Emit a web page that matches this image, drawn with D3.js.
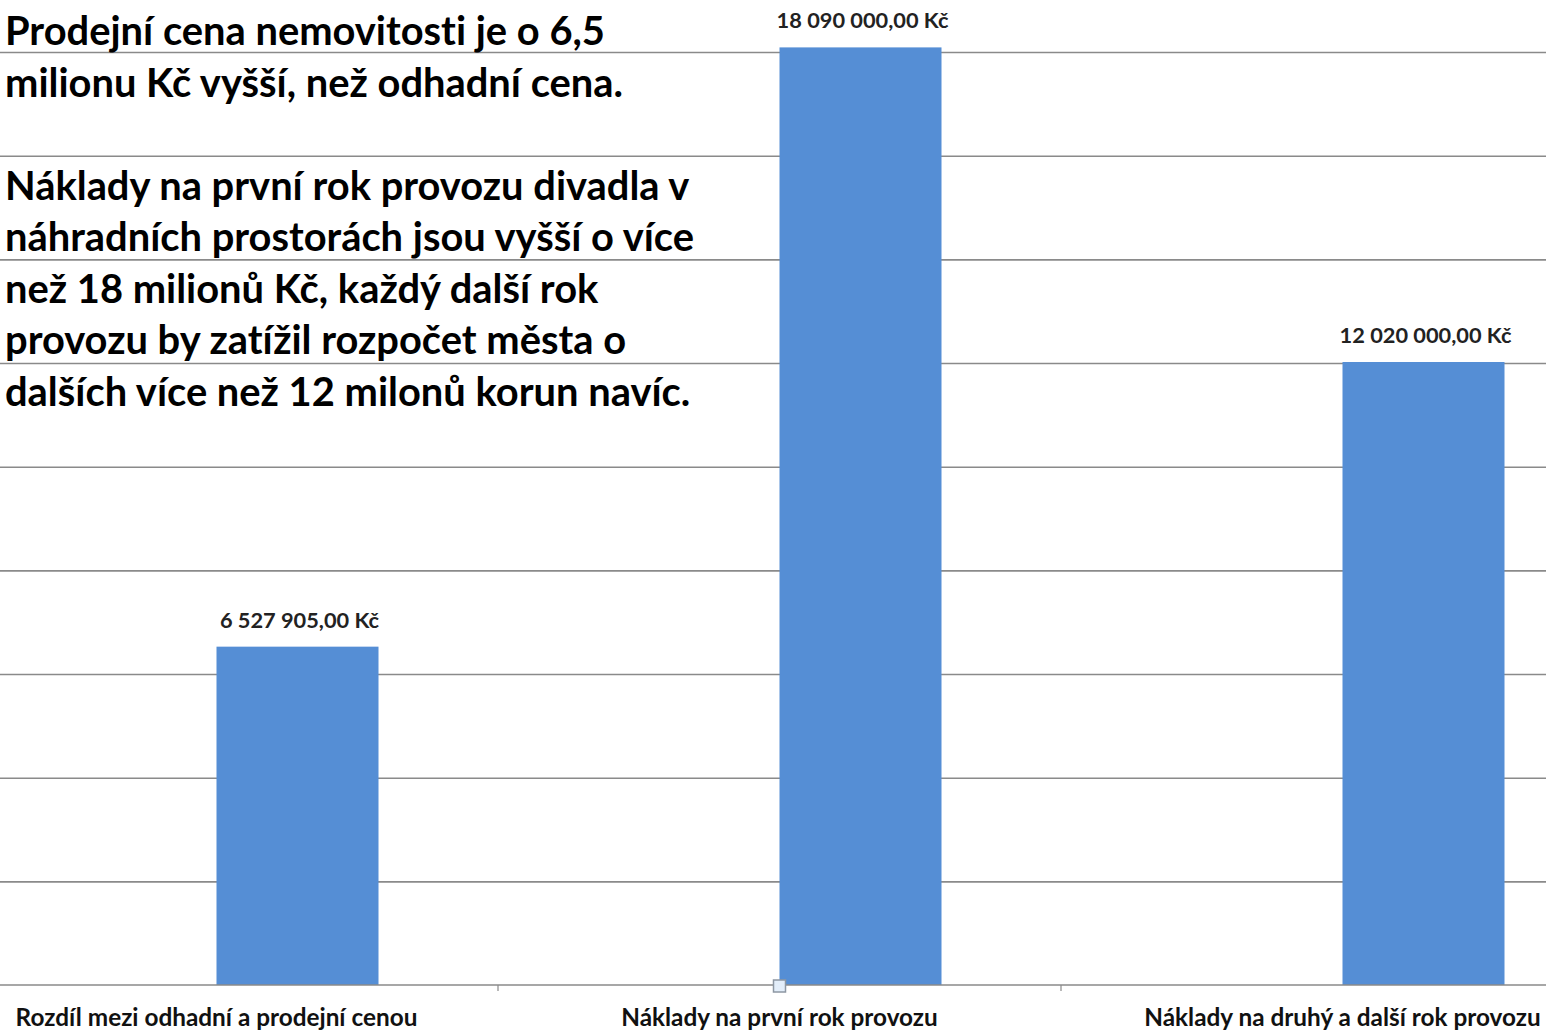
<!DOCTYPE html>
<html>
<head>
<meta charset="utf-8">
<script src="https://cdn.jsdelivr.net/npm/d3@7"></script>
<style>
  body { margin: 0; background: #fff; }
  svg { display: block; font-family: Lato, "Open Sans", sans-serif; font-variant-ligatures: none; }
</style>
</head>
<body>
<div id="chart"></div>
<script>
// data
var categories = ["Rozdíl mezi odhadní a prodejní cenou",
                  "Náklady na první rok provozu",
                  "Náklady na druhý a další rok provozu"];
var values = [6527905, 18090000, 12020000];
var yTicks = [0, 2e6, 4e6, 6e6, 8e6, 10e6, 12e6, 14e6, 16e6, 18e6, 20e6];
var noteLines = ["Prodejní cena nemovitosti je o 6,5",
                 "milionu Kč vyšší, než odhadní cena.",
                 "",
                 "Náklady na první rok provozu divadla v",
                 "náhradních prostorách jsou vyšší o více",
                 "než 18 milionů Kč, každý další rok",
                 "provozu by zatížil rozpočet města o",
                 "dalších více než 12 milonů korun navíc."];

var width = 1546, height = 1031;
var baseY = 985;

var svg = d3.select("#chart").append("svg")
    .attr("width", width)
    .attr("height", height);

// czech money format, "18 090 000,00 Kč"
var cz = d3.formatLocale({decimal: ",", thousands: "\u00a0", grouping: [3], currency: ["", "\u00a0Kč"]});
var fmt = cz.format("$,.2f");

// the plot is cropped on the left and right, so bands run past the edges
var x = d3.scaleBand().domain(categories).range([-65, 1624]).padding(0);
var y = d3.scaleLinear().domain([0, 20e6]).range([baseY, baseY - 20 * 51.83]);
var barW = 162;

// gridlines
svg.append("g")
    .attr("class", "grid")
    .call(d3.axisLeft(y).tickValues(yTicks.slice(1)).tickSize(-width * 2).tickFormat(""))
    .call(function(g) { g.select(".domain").remove(); })
    .selectAll("line")
      .attr("stroke", "#8a8a8a")
      .attr("stroke-width", 1.6);

// bars - they start at band centre (empty first series in the original)
svg.selectAll("rect.bar")
    .data(values)
  .enter().append("rect")
    .attr("class", "bar")
    .attr("x", function(d, i) { return x(categories[i]) + x.bandwidth() / 2; })
    .attr("y", function(d) { return y(d); })
    .attr("width", barW)
    .attr("height", function(d) { return baseY - y(d); })
    .attr("fill", "#558ed5");

// baseline + category boundary ticks
svg.append("line")
    .attr("x1", 0).attr("x2", width)
    .attr("y1", baseY).attr("y2", baseY)
    .attr("stroke", "#8a8a8a").attr("stroke-width", 1.6);

var bounds = categories.map(function(c) { return x(c); }).concat([x.range()[1]]);
svg.selectAll("line.tick-b")
    .data(bounds)
  .enter().append("line")
    .attr("class", "tick-b")
    .attr("x1", function(d) { return d; }).attr("x2", function(d) { return d; })
    .attr("y1", baseY).attr("y2", baseY + 6)
    .attr("stroke", "#8a8a8a").attr("stroke-width", 1.2);

// category labels
var xAxis = svg.append("g")
    .attr("transform", "translate(0," + baseY + ")")
    .call(d3.axisBottom(x).tickSize(0).tickPadding(24));
xAxis.select(".domain").remove();
xAxis.selectAll("text")
    .attr("fill", "#111")
    .style("font-family", "Lato, sans-serif")
    .style("font-weight", "bold")
    .style("font-size", "18px");
// fit label widths to the Calibri-ish widths of the original
var catLab = xAxis.select(".tick text").node();
var catSize = 18 * 402 / catLab.getComputedTextLength();
xAxis.selectAll("text").style("font-size", catSize + "px");

// value labels
var vals = svg.selectAll("text.val")
    .data(values)
  .enter().append("text")
    .attr("class", "val")
    .attr("x", function(d, i) { return x(categories[i]) + x.bandwidth() / 2 + barW / 2 + 2; })
    .attr("y", function(d) { return y(d) - 19; })
    .attr("text-anchor", "middle")
    .attr("fill", "#222")
    .style("font-weight", "bold")
    .style("font-size", "17px")
    .text(function(d) { return fmt(d); });
var valSize = 17 * 172 / vals.nodes()[1].getComputedTextLength();
vals.style("font-size", valSize + "px");

// selection handle left over in the screenshot
svg.append("rect")
    .attr("x", x(categories[1]) + x.bandwidth() / 2 - 6)
    .attr("y", baseY - 5)
    .attr("width", 12).attr("height", 12)
    .attr("fill", "#e3eefa")
    .attr("stroke", "#8d97a3").attr("stroke-width", 1.5);

// the big note in the top left
var note = svg.append("g").attr("class", "note");
var noteText = note.selectAll("text")
    .data(noteLines)
  .enter().append("text")
    .attr("x", 5)
    .attr("y", function(d, i) { return 45 + i * 51.5; })
    .attr("fill", "#000")
    .style("font-weight", "bold")
    .style("font-size", "36px")
    .text(function(d) { return d; });
var noteSize = 36 * 600 / noteText.nodes()[0].getComputedTextLength();
noteText.style("font-size", noteSize + "px");
</script>
</body>
</html>
